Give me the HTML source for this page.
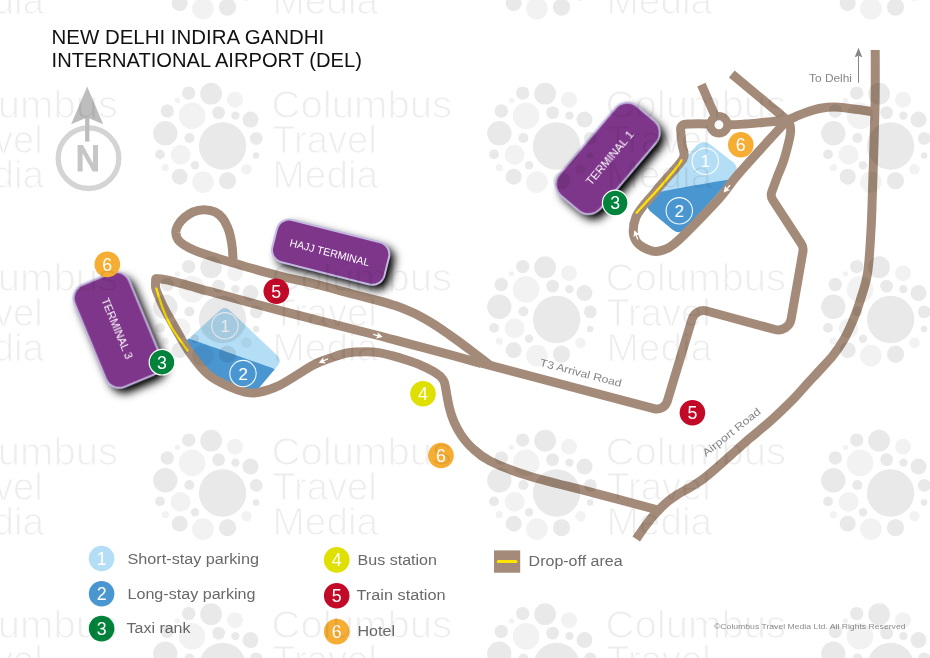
<!DOCTYPE html>
<html lang="en"><head><meta charset="utf-8"><title>New Delhi Indira Gandhi International Airport (DEL)</title>
<style>html,body{margin:0;padding:0;background:#fff;overflow:hidden}svg{display:block;font-family:"Liberation Sans", sans-serif}</style></head>
<body>
<svg width="930" height="658" viewBox="0 0 930 658">
<defs><filter id="sh" x="-40%" y="-40%" width="190%" height="190%"><feGaussianBlur stdDeviation="5"/><feOffset dx="5.3" dy="5.3"/><feComponentTransfer><feFuncA type="linear" slope="1.08"/></feComponentTransfer></filter><g id="wml"><circle cx="222.6" cy="146.0" r="23.7" fill="rgba(0,0,0,0.085)"/><circle cx="211.1" cy="93.7" r="10.9" fill="rgba(0,0,0,0.085)"/><circle cx="188.7" cy="93.1" r="6.7" fill="rgba(0,0,0,0.085)"/><circle cx="235.0" cy="99.7" r="8.0" fill="rgba(0,0,0,0.05)"/><circle cx="177.4" cy="100.4" r="2.7" fill="rgba(0,0,0,0.05)"/><circle cx="167.3" cy="111.0" r="6.7" fill="rgba(0,0,0,0.085)"/><circle cx="192.1" cy="115.9" r="13.3" fill="rgba(0,0,0,0.05)"/><circle cx="218.6" cy="112.6" r="6.4" fill="rgba(0,0,0,0.085)"/><circle cx="235.4" cy="115.6" r="4.2" fill="rgba(0,0,0,0.085)"/><circle cx="250.5" cy="119.6" r="8.0" fill="rgba(0,0,0,0.085)"/><circle cx="165.3" cy="133.3" r="12.2" fill="rgba(0,0,0,0.085)"/><circle cx="189.4" cy="138.0" r="5.1" fill="rgba(0,0,0,0.085)"/><circle cx="256.3" cy="138.4" r="6.4" fill="rgba(0,0,0,0.085)"/><circle cx="160.0" cy="154.4" r="4.9" fill="rgba(0,0,0,0.085)"/><circle cx="180.6" cy="154.8" r="10.0" fill="rgba(0,0,0,0.05)"/><circle cx="256.1" cy="155.5" r="3.3" fill="rgba(0,0,0,0.085)"/><circle cx="195.0" cy="165.2" r="4.2" fill="rgba(0,0,0,0.085)"/><circle cx="165.3" cy="167.7" r="3.6" fill="rgba(0,0,0,0.05)"/><circle cx="246.5" cy="169.2" r="5.3" fill="rgba(0,0,0,0.05)"/><circle cx="179.7" cy="176.7" r="8.0" fill="rgba(0,0,0,0.085)"/><circle cx="202.9" cy="182.1" r="10.9" fill="rgba(0,0,0,0.05)"/><circle cx="227.5" cy="180.7" r="8.6" fill="rgba(0,0,0,0.085)"/></g><g id="wmt" font-family='"Liberation Sans", sans-serif' font-size="38.3" fill="#fff" stroke="#000" stroke-width="1.15"><text x="271.6" y="117.6" textLength="180.5" lengthAdjust="spacingAndGlyphs">Columbus</text><text x="272.2" y="152.5" textLength="104.5" lengthAdjust="spacingAndGlyphs">Travel</text><text x="272.6" y="187.5" textLength="105.5" lengthAdjust="spacingAndGlyphs">Media</text></g><mask id="wmm" maskUnits="userSpaceOnUse" x="0" y="0" width="930" height="658"><rect width="930" height="658" fill="#000"/><use href="#wmt"/><use href="#wmt" x="-334.0" y="-173.5"/><use href="#wmt" x="0.0" y="-173.5"/><use href="#wmt" x="334.0" y="-173.5"/><use href="#wmt" x="668.0" y="-173.5"/><use href="#wmt" x="-334.0" y="0.0"/><use href="#wmt" x="334.0" y="0.0"/><use href="#wmt" x="668.0" y="0.0"/><use href="#wmt" x="-334.0" y="173.5"/><use href="#wmt" x="0.0" y="173.5"/><use href="#wmt" x="334.0" y="173.5"/><use href="#wmt" x="668.0" y="173.5"/><use href="#wmt" x="-334.0" y="347.0"/><use href="#wmt" x="0.0" y="347.0"/><use href="#wmt" x="334.0" y="347.0"/><use href="#wmt" x="668.0" y="347.0"/><use href="#wmt" x="-334.0" y="520.5"/><use href="#wmt" x="0.0" y="520.5"/><use href="#wmt" x="334.0" y="520.5"/><use href="#wmt" x="668.0" y="520.5"/></mask></defs>
<rect width="930" height="658" fill="#fff"/>
<clipPath id="p3"><path d="M220.8,309.5 A6.0,6.0 0 0 1 228.9,309.6 L277.8,356.0 A6.5,6.5 0 0 1 278.3,364.9 L254.7,393.0 L230.3,387.0 L208.3,374.6 L189.6,352.3 L183.6,343.2 Z"/></clipPath><g clip-path="url(#p3)"><rect x="180" y="300" width="110" height="100" fill="#b4def6"/><path d="M180.0,336.0 C181.4,336.4 184.1,337.2 188.4,338.6 C192.7,340.0 199.8,342.5 206.0,344.6 C212.2,346.8 218.3,348.9 225.6,351.5 C232.9,354.1 241.8,357.2 250.0,360.2 C258.2,363.1 268.0,366.6 275.0,369.2 C282.0,371.8 289.2,374.4 292.0,375.5 L292,375.5 L292,400 L180,400 L180,336 Z" fill="#4a96d0"/></g>
<clipPath id="p1"><path d="M697,145 Q704,139 711,145 L734,163 Q739,168 735,174 L686,229 Q680,235 673,230 L650,211 Q645,206 649,200 Z"/></clipPath><g clip-path="url(#p1)"><rect x="640" y="135" width="105" height="105" fill="#b4def6"/><path d="M640,196.5 L661,191.8 Q690,185.8 745,177 L745,240 L640,240 Z" fill="#4a96d0"/></g>
<g fill="none" stroke="#a48b79" stroke-width="9" stroke-linejoin="round" stroke-linecap="butt">
<path d="M875.2,50.0 C875.2,59.5 875.5,83.6 875.0,107.0 C874.5,130.4 873.2,170.0 872.5,190.5 C871.8,211.0 871.8,216.2 871.0,230.0 C870.2,243.8 869.4,261.6 867.5,273.5 C865.6,285.4 862.2,293.9 859.8,301.7 C857.4,309.4 855.9,313.6 853.2,320.0 C850.5,326.4 847.0,334.1 843.6,340.0 C840.2,345.9 836.9,350.6 833.0,355.5 C829.1,360.4 824.6,364.9 820.3,369.6 C816.0,374.4 811.2,379.4 807.0,384.0 C802.8,388.6 799.2,393.0 795.0,397.4 C790.8,401.8 786.2,406.2 782.0,410.2 C777.8,414.2 773.7,418.0 770.0,421.3 C766.3,424.6 763.3,427.1 760.0,429.9 C756.7,432.7 754.1,434.7 750.0,438.2 C745.9,441.7 739.9,447.1 735.5,451.0 C731.1,454.9 727.8,457.9 723.9,461.3 C720.0,464.7 716.2,468.2 712.3,471.5 C708.4,474.8 704.5,478.1 700.6,480.8 C696.7,483.6 692.9,485.7 689.0,488.0 C685.1,490.3 680.9,492.4 677.4,494.6 C673.9,496.9 670.6,499.1 667.7,501.5 C664.8,503.9 662.6,506.1 660.0,508.7 C657.4,511.3 654.9,513.9 652.3,517.0 C649.7,520.1 647.2,523.4 644.5,527.1 C641.8,530.8 637.6,537.0 636.2,539.0"/>
<path d="M873.0,111.8 C870.8,111.5 864.2,110.4 860.0,109.8 C855.8,109.2 852.3,108.7 848.0,108.2 C843.7,107.7 838.5,107.0 834.0,107.0 C829.5,107.0 825.2,107.4 820.7,108.2 C816.2,109.0 811.4,110.6 807.3,112.0 C803.2,113.4 799.4,115.1 796.0,116.5 C792.6,117.9 788.7,119.6 787.2,120.2"/>
<path d="M731.8,74.0 L787.2,120.2"/>
<path d="M701.4,84.6 L718.9,124.8"/>
<path d="M718.9,124.8 C720.9,124.8 726.6,124.9 731.0,124.8 C735.4,124.7 739.3,124.4 745.0,124.0 C750.7,123.6 758.0,122.9 765.0,122.3 C772.0,121.7 783.5,120.5 787.2,120.2"/>
<path d="M787.2,120.2 C779.2,129.0 750.4,160.2 739.3,173.0 C728.1,185.8 728.5,187.9 720.3,197.2 C712.1,206.5 697.8,221.1 690.0,229.0 C682.2,236.9 677.8,241.0 673.5,244.5 C669.2,248.0 667.2,248.7 664.0,249.8 C660.8,251.0 657.6,251.8 654.2,251.4 C650.8,251.0 646.4,249.2 643.4,247.5 C640.4,245.8 637.7,243.8 636.0,241.0 C634.3,238.2 633.2,234.8 633.2,230.8 C633.2,226.8 634.3,221.2 636.0,217.0 C637.7,212.8 641.0,209.0 643.3,205.8 C645.6,202.6 646.8,201.8 650.0,198.0 C653.2,194.2 658.5,187.8 662.6,183.0 C666.7,178.2 671.6,173.0 674.7,169.3 C677.9,165.6 679.9,163.4 681.5,161.0 C683.1,158.6 684.1,157.8 684.2,155.0 C684.3,152.2 682.5,147.7 682.0,144.2 C681.5,140.7 681.2,136.8 681.0,134.0 C680.8,131.2 680.3,129.3 680.8,127.7 C681.3,126.1 682.5,125.1 684.0,124.5 C685.5,123.9 686.1,124.0 690.0,123.9 C693.9,123.8 702.6,123.8 707.4,123.9 C712.2,124.1 717.0,124.7 718.9,124.8"/>
<path d="M787.2,120.2 C787.7,120.9 789.3,122.6 789.9,124.5 C790.5,126.4 790.8,128.4 790.6,131.5 C790.4,134.6 789.7,138.1 788.5,143.0 C787.3,147.9 785.5,155.2 783.6,160.8 C781.8,166.4 778.4,173.9 777.4,176.5 L777.4,176.5 L771.8,191.8 C770.9,194.4 771.2,197.4 772.7,199.8 L801.3,243.8 C802.9,246.1 803.4,248.9 802.9,251.7 L791.1,319.2 C789.7,326.7 782.2,331.5 774.9,329.5 L706.7,311.0 C700.4,309.3 693.9,312.9 692.0,319.2 L667.3,401.2 C665.6,406.9 659.7,410.2 653.9,408.7 L470.0,360.1"/>
<path d="M233.4,266.5 C233.3,265.3 233.2,262.2 233.0,259.1 C232.8,256.0 232.7,251.6 232.3,247.9 C231.9,244.2 231.3,240.2 230.5,236.7 C229.7,233.2 228.7,229.8 227.3,226.7 C226.0,223.6 224.5,220.5 222.4,218.0 C220.3,215.5 218.0,213.3 214.9,211.9 C211.8,210.5 207.3,209.8 203.7,209.8 C200.0,209.8 196.2,210.7 193.0,212.0 C189.8,213.3 186.9,215.4 184.5,217.5 C182.1,219.6 179.8,222.0 178.4,224.5 C177.0,227.0 175.7,229.7 175.8,232.5 C176.0,235.3 176.9,238.7 179.3,241.3 C181.7,243.9 186.2,246.2 190.0,248.2 C193.8,250.2 198.2,251.8 202.4,253.3 C206.6,254.8 210.8,256.1 214.9,257.4 C219.1,258.7 223.2,259.9 227.3,261.2 C231.5,262.4 235.6,263.7 239.8,264.9 C244.0,266.1 248.1,267.3 252.3,268.5 C256.5,269.7 259.6,270.7 265.0,272.2 C270.4,273.7 276.7,275.3 285.0,277.3 C293.3,279.3 304.2,281.3 315.0,284.0 C325.8,286.7 339.2,290.4 350.0,293.3 C360.8,296.2 372.5,299.1 380.0,301.1 C387.5,303.2 390.0,303.9 395.0,305.6 C400.0,307.3 405.8,309.6 410.0,311.4 C414.2,313.2 416.7,314.4 420.0,316.2 C423.3,317.9 426.7,319.9 430.0,321.9 C433.3,323.9 436.7,326.1 440.0,328.3 C443.3,330.5 445.3,332.0 450.0,335.3 C454.7,338.6 461.3,343.3 468.0,348.3 C474.7,353.3 486.3,362.5 490.0,365.3"/>
<path d="M155.8,278.8 C157.3,278.9 161.8,279.1 165.0,279.6 C168.2,280.1 170.9,280.8 175.1,281.9 C179.3,283.0 185.0,284.6 190.0,286.0 C195.0,287.4 201.1,289.3 205.2,290.4 C209.3,291.5 203.2,289.7 214.8,292.8 C226.4,295.9 255.5,304.1 274.7,309.2 C293.9,314.3 313.8,319.3 330.0,323.4 C346.2,327.5 360.3,331.0 372.0,334.0 C383.7,337.0 390.3,338.8 400.0,341.4 C409.7,344.0 416.5,345.8 430.0,349.4 C443.5,353.0 472.5,361.0 481.0,363.3"/>
<path d="M155.8,278.8 C155.8,280.3 155.1,284.8 155.7,288.0 C156.3,291.2 158.1,294.7 159.5,298.1 C160.9,301.5 161.5,303.2 164.1,308.2 C166.7,313.2 171.1,320.8 175.3,328.2 C179.6,335.6 184.1,344.6 189.6,352.3 C195.1,360.0 201.5,368.8 208.3,374.6 C215.1,380.4 224.2,384.1 230.3,387.0 C236.4,389.9 240.5,391.1 245.0,392.0 C249.5,392.9 251.6,393.7 257.4,392.6 C263.2,391.5 270.5,389.8 279.8,385.2 C289.1,380.6 304.9,369.5 313.3,365.0 C321.7,360.5 324.4,360.3 330.0,358.3 C335.6,356.3 340.8,354.1 346.9,353.0 C352.9,351.9 360.8,351.7 366.3,351.7 C371.8,351.7 375.7,352.2 380.0,352.9 C384.3,353.6 387.8,354.6 392.0,355.7 C396.2,356.8 400.3,358.0 405.0,359.5 C409.7,361.0 415.2,362.8 420.0,364.8 C424.8,366.8 430.3,369.6 433.7,371.6 C437.1,373.6 438.7,374.9 440.5,376.6 C442.3,378.3 443.3,379.1 444.3,382.0 C445.3,384.9 445.9,389.9 446.7,394.2 C447.5,398.5 448.2,403.3 449.4,407.9 C450.6,412.5 451.9,417.1 453.9,421.6 C455.9,426.2 458.3,430.9 461.3,435.2 C464.3,439.5 466.9,443.2 471.7,447.5 C476.5,451.8 480.4,456.2 490.0,461.0 C499.6,465.8 511.8,470.7 529.0,476.0 C546.2,481.3 572.0,487.1 593.5,492.8 C615.0,498.5 647.2,507.1 658.0,510.0"/>
</g>
<circle cx="155.8" cy="278.8" r="4.5" fill="#a48b79"/>
<circle cx="718.9" cy="124.8" r="8.6" fill="#fff" stroke="#a48b79" stroke-width="8.3"/>
<g fill="none" stroke="#ffe500" stroke-width="2.2" stroke-linecap="round">
<path d="M156.3,288.5 C157.4,291.9 160.4,302.4 163.0,309.0 C165.6,315.6 167.9,321.1 172.0,328.0 C176.1,334.9 184.9,346.8 187.5,350.5"/>
<path d="M681.6,160.2 C680.7,161.5 679.8,163.5 676.0,168.2 C672.2,172.9 663.8,182.7 659.0,188.2 C654.2,193.7 650.7,197.1 647.0,201.2 C643.3,205.3 638.3,210.9 636.6,212.8"/>
</g>
<g fill="#fff"><path transform="translate(377.3,335.5) rotate(15)" d="M-4.2,-0.65 L0.4,-0.65 L-0.6,-3.3 L5.6,0 L-0.6,3.3 L0.4,0.65 L-4.2,0.65 Z"/><path transform="translate(324,360.6) rotate(157)" d="M-4.2,-0.65 L0.4,-0.65 L-0.6,-3.3 L5.6,0 L-0.6,3.3 L0.4,0.65 L-4.2,0.65 Z"/><path transform="translate(727.3,188.3) rotate(132)" d="M-4.2,-0.65 L0.4,-0.65 L-0.6,-3.3 L5.6,0 L-0.6,3.3 L0.4,0.65 L-4.2,0.65 Z"/><path transform="translate(636.3,235.5) rotate(-110)" d="M-4.2,-0.65 L0.4,-0.65 L-0.6,-3.3 L5.6,0 L-0.6,3.3 L0.4,0.65 L-4.2,0.65 Z"/></g>
<circle cx="224.9" cy="325.8" r="13.2" fill="none" stroke="#fff" stroke-opacity="0.95" stroke-width="1.1"/><text x="224.9" y="331.8" font-size="17" fill="#fff" text-anchor="middle">1</text>
<circle cx="243.0" cy="373.6" r="13.2" fill="none" stroke="#fff" stroke-opacity="0.95" stroke-width="1.1"/><text x="243.0" y="379.6" font-size="17" fill="#fff" text-anchor="middle">2</text>
<circle cx="705.3" cy="161.3" r="13.2" fill="none" stroke="#fff" stroke-opacity="0.95" stroke-width="1.1"/><text x="705.3" y="167.3" font-size="17" fill="#fff" text-anchor="middle">1</text>
<circle cx="679.3" cy="210.8" r="13.2" fill="none" stroke="#fff" stroke-opacity="0.95" stroke-width="1.1"/><text x="679.3" y="216.8" font-size="17" fill="#fff" text-anchor="middle">2</text>
<g filter="url(#sh)" opacity="1">
<g transform="translate(607.9,158.4) rotate(-49.8)"><rect x="-58.8" y="-26.8" width="117.5" height="53.5" rx="15.5" fill="#000"/></g>
<g transform="translate(117.8,329.9) rotate(67.5)"><rect x="-55.2" y="-29.6" width="110.5" height="59.3" rx="14.5" fill="#000"/></g>
<g transform="translate(330.7,252.2) rotate(14.2)"><rect x="-57.8" y="-21.8" width="115.6" height="43.6" rx="12.5" fill="#000"/></g>
</g>
<g transform="translate(607.9,158.4) rotate(-49.8)"><rect x="-58.8" y="-26.8" width="117.5" height="53.5" rx="15.5" fill="#7e368a" stroke="#c3b8e0" stroke-width="2"/><text x="1.5" y="4.8" font-size="11" fill="#fff" text-anchor="middle" textLength="67.0" lengthAdjust="spacingAndGlyphs">TERMINAL 1</text></g>
<g transform="translate(117.8,329.9) rotate(67.5)"><rect x="-55.2" y="-29.6" width="110.5" height="59.3" rx="14.5" fill="#7e368a" stroke="#c3b8e0" stroke-width="2"/><text x="-1.5" y="4.4" font-size="11" fill="#fff" text-anchor="middle" textLength="65.0" lengthAdjust="spacingAndGlyphs">TERMINAL 3</text></g>
<g transform="translate(330.7,252.2) rotate(14.2)"><rect x="-57.8" y="-21.8" width="115.6" height="43.6" rx="12.5" fill="#7e368a" stroke="#c3b8e0" stroke-width="2"/><text x="-1.0" y="4.2" font-size="10.5" fill="#fff" text-anchor="middle" textLength="82.0" lengthAdjust="spacingAndGlyphs">HAJJ TERMINAL</text></g>
<g>
<circle cx="107.3" cy="264.4" r="12.8" fill="#f6ad33"/><text x="107.3" y="270.7" font-size="17.8" fill="#fff" text-anchor="middle">6</text>
<circle cx="162.0" cy="362.2" r="12.8" fill="#00843b" stroke="#fff" stroke-width="1.2"/><text x="162.0" y="368.5" font-size="17.8" fill="#fff" text-anchor="middle">3</text>
<circle cx="276.3" cy="291.2" r="12.8" fill="#c20a28"/><text x="276.3" y="297.5" font-size="17.8" fill="#fff" text-anchor="middle">5</text>
<circle cx="423.0" cy="393.8" r="12.8" fill="#dfdf00"/><text x="423.0" y="400.1" font-size="17.8" fill="#fff" text-anchor="middle">4</text>
<circle cx="441.0" cy="455.5" r="12.8" fill="#f6ad33"/><text x="441.0" y="461.8" font-size="17.8" fill="#fff" text-anchor="middle">6</text>
<circle cx="692.4" cy="412.7" r="12.8" fill="#c20a28"/><text x="692.4" y="419.0" font-size="17.8" fill="#fff" text-anchor="middle">5</text>
<circle cx="615.2" cy="203.0" r="12.8" fill="#00843b" stroke="#fff" stroke-width="1.2"/><text x="615.2" y="209.3" font-size="17.8" fill="#fff" text-anchor="middle">3</text>
<circle cx="740.8" cy="144.8" r="12.8" fill="#f6ad33"/><text x="740.8" y="151.1" font-size="17.8" fill="#fff" text-anchor="middle">6</text>
</g>
<g fill="#83858a" font-size="10.5"><text transform="translate(539.3,365.8) rotate(14.6)" textLength="84" lengthAdjust="spacingAndGlyphs">T3 Arrival Road</text><text transform="translate(706,457) rotate(-38.5)" textLength="71" lengthAdjust="spacingAndGlyphs">Airport Road</text><text x="809" y="81.7" textLength="43" lengthAdjust="spacingAndGlyphs">To Delhi</text></g><path d="M858.5,82.8 L858.5,56" stroke="#85878a" stroke-width="1" fill="none"/><path d="M858.5,47.8 L862.3,57.2 L858.5,55.8 L854.7,57.2 Z" fill="#85878a"/>
<g fill="#111" font-size="20.4"><text x="51.6" y="43.6" textLength="272.6" lengthAdjust="spacingAndGlyphs">NEW DELHI INDIRA GANDHI</text><text x="51.6" y="67.3" textLength="310.3" lengthAdjust="spacingAndGlyphs">INTERNATIONAL AIRPORT (DEL)</text></g>
<circle cx="88.5" cy="158.2" r="30.3" fill="none" stroke="#d4d4d4" stroke-width="5.3"/><rect x="85.1" y="117" width="4.3" height="24.6" fill="#bdbdbd"/><path d="M87.2,86.4 L103.2,124.2 L87.2,117.6 L71.1,124.2 Z" fill="#bdbdbd"/><path d="M77.6,171.6 V145 H82.9 L93,163.3 V145 H98 V171.6 H92.7 L82.6,153.3 V171.6 Z" fill="#c6c6c6"/>
<g>
<circle cx="101.6" cy="558.5" r="12.8" fill="#b4def6"/><text x="101.6" y="564.8" font-size="17.8" fill="#fff" text-anchor="middle">1</text>
<circle cx="101.6" cy="593.7" r="12.8" fill="#4a96d0"/><text x="101.6" y="600.0" font-size="17.8" fill="#fff" text-anchor="middle">2</text>
<circle cx="101.6" cy="628.6" r="12.8" fill="#00843b"/><text x="101.6" y="634.9" font-size="17.8" fill="#fff" text-anchor="middle">3</text>
<circle cx="336.7" cy="559.9" r="12.8" fill="#dfdf00"/><text x="336.7" y="566.2" font-size="17.8" fill="#fff" text-anchor="middle">4</text>
<circle cx="336.7" cy="595.8" r="12.8" fill="#c20a28"/><text x="336.7" y="602.1" font-size="17.8" fill="#fff" text-anchor="middle">5</text>
<circle cx="336.7" cy="631.6" r="12.8" fill="#f6ad33"/><text x="336.7" y="637.9" font-size="17.8" fill="#fff" text-anchor="middle">6</text>
</g>
<g fill="#696969" font-size="15.5"><text x="127.5" y="563.6" textLength="131.5" lengthAdjust="spacingAndGlyphs">Short-stay parking</text><text x="127.5" y="598.5" textLength="128" lengthAdjust="spacingAndGlyphs">Long-stay parking</text><text x="126.5" y="633.2" textLength="64" lengthAdjust="spacingAndGlyphs">Taxi rank</text><text x="357.5" y="564.9" textLength="79.5" lengthAdjust="spacingAndGlyphs">Bus station</text><text x="356.5" y="600.4" textLength="89" lengthAdjust="spacingAndGlyphs">Train station</text><text x="357.5" y="635.9" textLength="37.5" lengthAdjust="spacingAndGlyphs">Hotel</text><text x="528.6" y="565.6" textLength="94" lengthAdjust="spacingAndGlyphs">Drop-off area</text></g>
<rect x="494" y="550.4" width="26.2" height="22.3" fill="#a48b79"/><path d="M498.3,561.6 H516" stroke="#ffe500" stroke-width="3" stroke-linecap="round"/>
<text x="714" y="629" font-size="8.1" fill="#8c8c8c" textLength="191.5" lengthAdjust="spacingAndGlyphs">©Columbus Travel Media Ltd. All Rights Reserved</text>
<g id="wml0"></g>
<use href="#wml" x="-334.0" y="-173.5"/><use href="#wml" x="0.0" y="-173.5"/><use href="#wml" x="334.0" y="-173.5"/><use href="#wml" x="668.0" y="-173.5"/><use href="#wml" x="-334.0" y="0.0"/><use href="#wml" x="0.0" y="0.0"/><use href="#wml" x="334.0" y="0.0"/><use href="#wml" x="668.0" y="0.0"/><use href="#wml" x="-334.0" y="173.5"/><use href="#wml" x="0.0" y="173.5"/><use href="#wml" x="334.0" y="173.5"/><use href="#wml" x="668.0" y="173.5"/><use href="#wml" x="-334.0" y="347.0"/><use href="#wml" x="0.0" y="347.0"/><use href="#wml" x="334.0" y="347.0"/><use href="#wml" x="668.0" y="347.0"/><use href="#wml" x="-334.0" y="520.5"/><use href="#wml" x="0.0" y="520.5"/><use href="#wml" x="334.0" y="520.5"/><use href="#wml" x="668.0" y="520.5"/>
<rect width="930" height="658" fill="rgba(0,0,0,0.072)" mask="url(#wmm)"/>
</svg>
</body></html>
